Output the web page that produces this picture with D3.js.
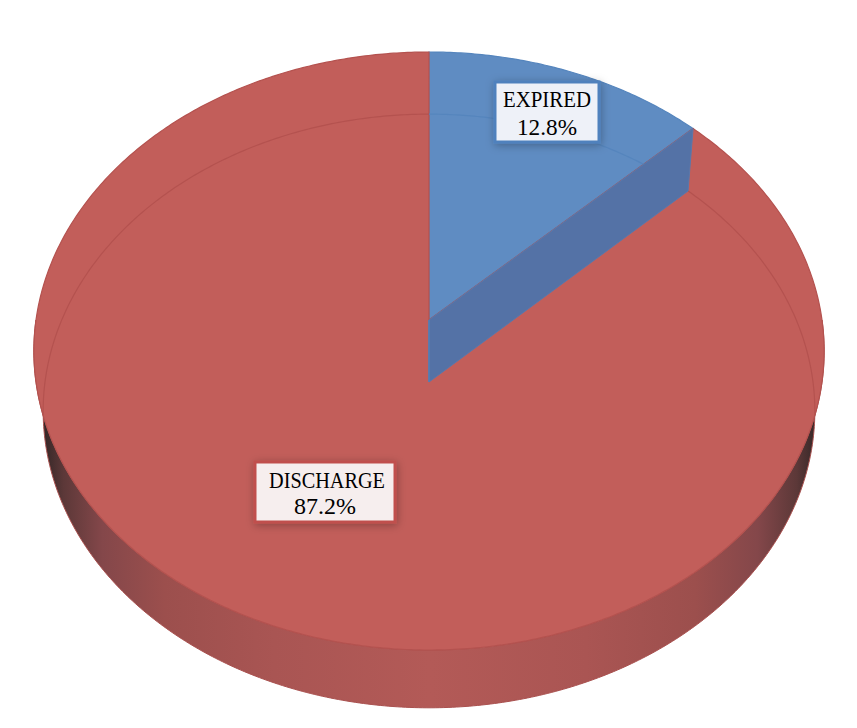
<!DOCTYPE html>
<meta charset="utf-8">
<style>
body{ margin: 0; background: #fff; }
svg{ display: block; }
text{ font-family: "Liberation Serif", serif; font-size: 23.5px; fill: #000; text-anchor: middle; }
</style>
<svg id="chart" width="857" height="728"></svg>
<script src="https://cdn.jsdelivr.net/npm/d3@7"></script>
<script>
var categories = ['EXPIRED', 'DISCHARGE']
var values = [12.8, 87.2]

var topColors = ['#5f8cc2', '#c25e5a']
var edgeColors = ['#5585bd', '#b4524f']

var svg = d3.select('#chart')
var defs = svg.append('defs')

// the two rims of the disc, drawn with a bit of perspective
var topRim = {cy: 320, rx: 393, ry: 295.8, b: 0.1037}
var botRim = {cy: 382, rx: 384, ry: 294, b: 0.0976}
var cx = 429

function project(rim, a){
  var k = 1 + rim.b*Math.cos(a)
  return [cx + rim.rx*Math.sin(a)/k, rim.cy - rim.ry*Math.cos(a)/k]
}

function rimPoints(rim, a0, a1){
  var n = Math.max(2, Math.ceil(Math.abs(a1 - a0)/0.01))
  return d3.range(n + 1).map(function(i){
    return project(rim, a0 + (a1 - a0)*i/n)
  })
}

var line = d3.line()
var arcs = d3.pie().sort(null)(values)

// side wall shading, dark at both ends
var wall = defs.append('linearGradient')
    .attr('id', 'wall')
    .attr('gradientUnits', 'userSpaceOnUse')
    .attr('x1', 40).attr('x2', 820).attr('y1', 0).attr('y2', 0)
var stops = [[0, '#2e2424'], [0.03, '#5c3838'], [0.08, '#84474a'], [0.16, '#9c4f4d'],
             [0.3, '#a95553'], [0.5, '#b35a57'], [0.7, '#aa5553'], [0.84, '#9c4f4d'],
             [0.92, '#84474a'], [0.97, '#5c3838'], [1, '#2e2424']]
wall.selectAll('stop').data(stops).enter().append('stop')
    .attr('offset', function(d){ return d[0] })
    .attr('stop-color', function(d){ return d[1] })

var shadow = defs.append('filter').attr('id', 'shadow')
    .attr('x', '-20%').attr('y', '-30%').attr('width', '140%').attr('height', '160%')
shadow.append('feDropShadow')
    .attr('dx', 1).attr('dy', 2).attr('stdDeviation', 4)
    .attr('flood-color', '#000').attr('flood-opacity', 0.28)

// wall
var front = rimPoints(botRim, Math.PI/2, Math.PI*3/2)
  .concat(rimPoints(topRim, Math.PI*3/2, Math.PI/2))
svg.append('path')
    .attr('d', line(front) + 'Z')
    .attr('fill', 'url(#wall)')
    .attr('stroke', '#a9504e')
    .attr('stroke-width', 1)

// top faces
svg.selectAll('.face').data(arcs).enter().append('path')
    .attr('class', 'face')
    .attr('d', function(d){
      return line([[cx, topRim.cy]].concat(rimPoints(topRim, d.startAngle, d.endAngle))) + 'Z'
    })
    .attr('fill', function(d, i){ return topColors[i] })
    .attr('stroke', function(d, i){ return edgeColors[i] })
    .attr('stroke-width', 1.2)

defs.append('clipPath').attr('id', 'topClip').append('path')
    .attr('d', line(rimPoints(topRim, 0, Math.PI*2)) + 'Z')

// back of the lower rim shows through the top
svg.selectAll('.rim').data(arcs).enter().append('path')
    .attr('class', 'rim')
    .attr('d', function(d){
      return line(rimPoints(botRim, d.startAngle, d.endAngle))
    })
    .attr('fill', 'none')
    .attr('stroke', function(d, i){ return edgeColors[i] })
    .attr('stroke-width', 1.2)
    .attr('clip-path', 'url(#topClip)')

// cut face of the small slice
var cut = arcs[0].endAngle
svg.append('path')
    .attr('d', line([[cx, topRim.cy], project(topRim, cut), project(botRim, cut), [cx, botRim.cy]]) + 'Z')
    .attr('fill', '#5472a6')
    .attr('stroke', '#5a78ab')
    .attr('stroke-width', 1)
svg.append('path')
    .attr('d', line([[cx, topRim.cy], [cx, botRim.cy]]))
    .attr('stroke', '#4f7fb8')
    .attr('stroke-width', 1.5)

// labels, squeezed to the width of the original face
var boxes = [
  {x: 495, y: 82, w: 104, h: 60, tx: [547, 547], base: [107, 135], len: [88, 60], border: '#4f81bd', fill: '#eef1f8'},
  {x: 255, y: 462, w: 140, h: 60, tx: [327, 325], base: [488, 514], len: [116, 62], border: '#c0504d', fill: '#f6eeee'}
]
var labels = svg.selectAll('.label').data(arcs).enter().append('g').attr('class', 'label')
labels.append('rect')
    .attr('x', function(d, i){ return boxes[i].x })
    .attr('y', function(d, i){ return boxes[i].y })
    .attr('width', function(d, i){ return boxes[i].w })
    .attr('height', function(d, i){ return boxes[i].h })
    .attr('fill', function(d, i){ return boxes[i].fill })
    .attr('stroke', function(d, i){ return boxes[i].border })
    .attr('stroke-width', 3)
    .attr('filter', 'url(#shadow)')
labels.append('text')
    .attr('x', function(d, i){ return boxes[i].tx[0] })
    .attr('y', function(d, i){ return boxes[i].base[0] })
    .attr('textLength', function(d, i){ return boxes[i].len[0] })
    .attr('lengthAdjust', 'spacingAndGlyphs')
    .text(function(d, i){ return categories[i] })
labels.append('text')
    .attr('x', function(d, i){ return boxes[i].tx[1] })
    .attr('y', function(d, i){ return boxes[i].base[1] })
    .attr('textLength', function(d, i){ return boxes[i].len[1] })
    .attr('lengthAdjust', 'spacingAndGlyphs')
    .text(function(d){ return d3.format('.1f')(d.value) + '%' })
</script>
